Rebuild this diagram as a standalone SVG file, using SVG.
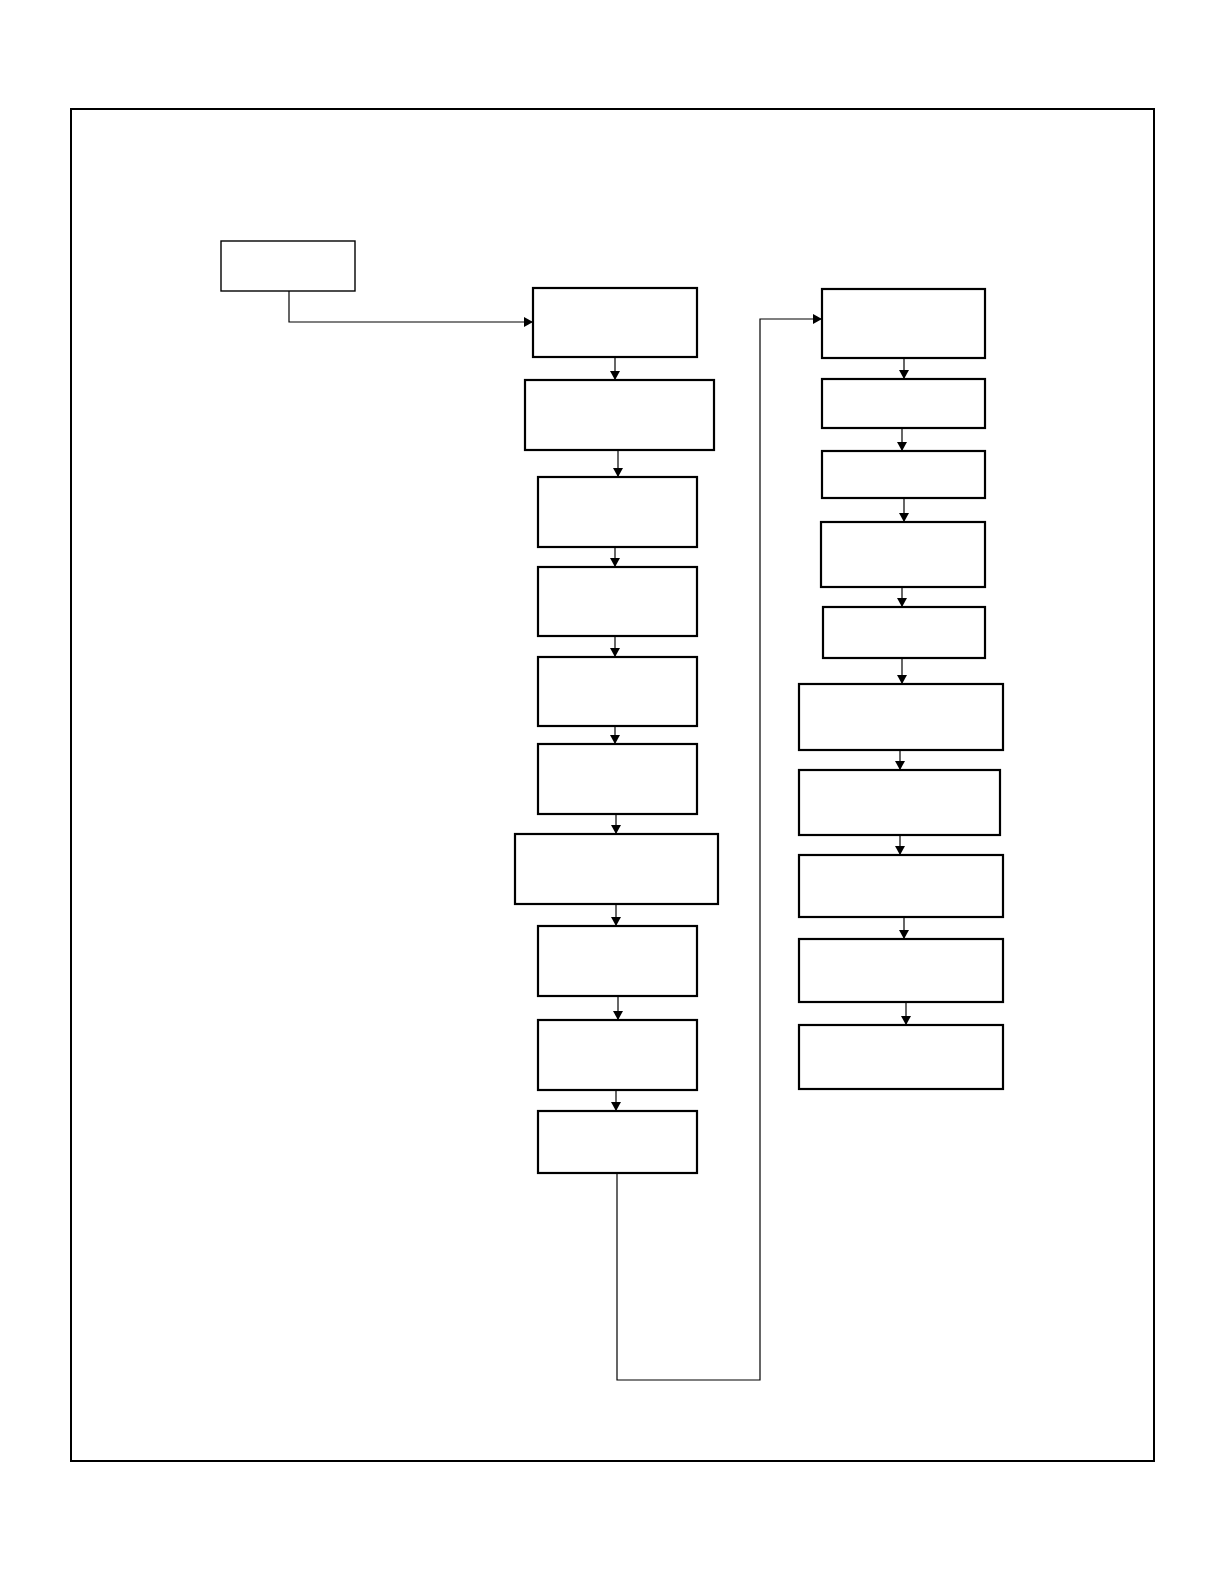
<svg xmlns="http://www.w3.org/2000/svg" width="1224" height="1584" viewBox="0 0 1224 1584">
<style>
.frame{fill:none;stroke:#000;stroke-width:2}
.box{fill:#fff;stroke:#000;stroke-width:2.2}
.thin{fill:#fff;stroke:#000;stroke-width:1.4}
.ln{fill:none;stroke:#000;stroke-width:1.2}
</style>
<defs>
<marker id="ah" viewBox="0 0 10 10" refX="10" refY="5" markerWidth="9" markerHeight="10" markerUnits="userSpaceOnUse" orient="auto" preserveAspectRatio="none">
<path d="M0,0 L10,5 L0,10 z" fill="#000"/>
</marker>
</defs>
<rect width="1224" height="1584" fill="#fff"/>
<rect class="frame" x="71" y="109" width="1083" height="1352"/>
<g id="n0"><rect class="thin" x="221" y="241" width="134" height="50"/></g>
<g id="n1"><rect class="box" x="533" y="288" width="164" height="69"/></g>
<g id="n2"><rect class="box" x="525" y="380" width="189" height="70"/></g>
<g id="n3"><rect class="box" x="538" y="477" width="159" height="70"/></g>
<g id="n4"><rect class="box" x="538" y="567" width="159" height="69"/></g>
<g id="n5"><rect class="box" x="538" y="657" width="159" height="69"/></g>
<g id="n6"><rect class="box" x="538" y="744" width="159" height="70"/></g>
<g id="n7"><rect class="box" x="515" y="834" width="203" height="70"/></g>
<g id="n8"><rect class="box" x="538" y="926" width="159" height="70"/></g>
<g id="n9"><rect class="box" x="538" y="1020" width="159" height="70"/></g>
<g id="n10"><rect class="box" x="538" y="1111" width="159" height="62"/></g>
<g id="m1"><rect class="box" x="822" y="289" width="163" height="69"/></g>
<g id="m2"><rect class="box" x="822" y="379" width="163" height="49"/></g>
<g id="m3"><rect class="box" x="822" y="451" width="163" height="47"/></g>
<g id="m4"><rect class="box" x="821" y="522" width="164" height="65"/></g>
<g id="m5"><rect class="box" x="823" y="607" width="162" height="51"/></g>
<g id="m6"><rect class="box" x="799" y="684" width="204" height="66"/></g>
<g id="m7"><rect class="box" x="799" y="770" width="201" height="65"/></g>
<g id="m8"><rect class="box" x="799" y="855" width="204" height="62"/></g>
<g id="m9"><rect class="box" x="799" y="939" width="204" height="63"/></g>
<g id="m10"><rect class="box" x="799" y="1025" width="204" height="64"/></g>
<g id="connectors">
<path class="ln" d="M289,291 V322 H533" marker-end="url(#ah)"/>
<path class="ln" d="M615,357 V380" marker-end="url(#ah)"/>
<path class="ln" d="M618,450 V477" marker-end="url(#ah)"/>
<path class="ln" d="M615,547 V567" marker-end="url(#ah)"/>
<path class="ln" d="M615,636 V657" marker-end="url(#ah)"/>
<path class="ln" d="M615,726 V744" marker-end="url(#ah)"/>
<path class="ln" d="M616,814 V834" marker-end="url(#ah)"/>
<path class="ln" d="M616,904 V926" marker-end="url(#ah)"/>
<path class="ln" d="M618,996 V1020" marker-end="url(#ah)"/>
<path class="ln" d="M616,1090 V1111" marker-end="url(#ah)"/>
<path class="ln" d="M617,1173 V1380 H760 V319 H822" marker-end="url(#ah)"/>
<path class="ln" d="M904,358 V379" marker-end="url(#ah)"/>
<path class="ln" d="M902,428 V451" marker-end="url(#ah)"/>
<path class="ln" d="M904,498 V522" marker-end="url(#ah)"/>
<path class="ln" d="M902,587 V607" marker-end="url(#ah)"/>
<path class="ln" d="M902,658 V684" marker-end="url(#ah)"/>
<path class="ln" d="M900,750 V770" marker-end="url(#ah)"/>
<path class="ln" d="M900,835 V855" marker-end="url(#ah)"/>
<path class="ln" d="M904,917 V939" marker-end="url(#ah)"/>
<path class="ln" d="M906,1002 V1025" marker-end="url(#ah)"/>
</g>
</svg>
